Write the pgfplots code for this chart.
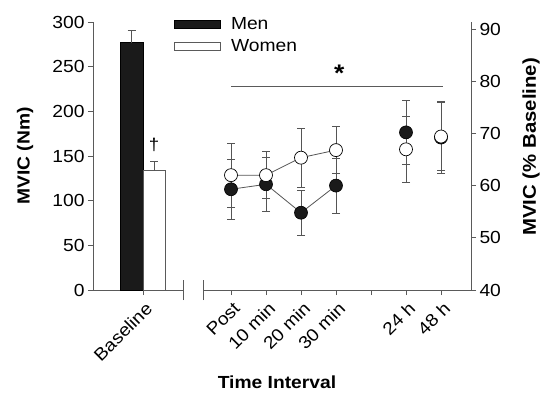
\documentclass[border=0pt]{standalone}
\usepackage{fontspec}
\setmainfont[FakeStretch=1.1]{Liberation Sans}
\usepackage{pgfplots}
\pgfplotsset{compat=1.18}
\definecolor{axc}{RGB}{90,90,90}
\definecolor{barblack}{RGB}{26,26,26}
\definecolor{errc}{RGB}{85,85,85}
\begin{document}
\begin{tikzpicture}[x=1pt,y=1pt]
\useasboundingbox (0,0) rectangle (541,392);
\pgfplotsset{
  common/.style={
    scale only axis, height=268pt, clip=false,
    axis line style={draw=axc, line width=0.8pt, -},
    tick style={draw=axc, line width=0.8pt},
    major tick length=5pt, tick align=outside,
    /pgf/number format/assume math mode=true,
    tick label style={font=\fontsize{17.5}{20}\selectfont},
    label style={font=\bfseries\fontsize{17.5}{21}\selectfont},
    x tick label style={rotate=45, anchor=north east, inner sep=2pt, yshift=-3pt, xshift=-1pt},
  }
}
\begin{axis}[common,
  at={(93pt,102pt)}, width=90pt,
  xmin=-50, xmax=40, ymin=0, ymax=300,
  axis x line*=bottom, axis y line*=left,
  ytick={0,50,...,300},
  xtick={0}, xticklabels={Baseline},
  extra x ticks={40}, extra x tick labels={},
  extra x tick style={major tick length=20pt, tick align=center},
  ylabel={MVIC (Nm)},
  ylabel style={at={(axis description cs:-0.755,0.5)}, anchor=center, rotate=0},
  legend style={draw=none, fill=none, at={(axis description cs:0.9,1.022)}, anchor=north west,
    inner sep=0pt, row sep=6.5pt, column sep=9pt, font=\fontsize{17.5}{20}\selectfont,
    nodes={inner sep=1pt}},
  legend cell align=left,
]
\addplot[ybar, bar width=23, bar shift=0pt, fill=barblack, draw=black, line width=0.6pt,
  legend image code/.code={\draw[fill=barblack, draw=black, line width=0.6pt] (0pt,-4pt) rectangle (46pt,4pt);},
  error bars/.cd, y dir=plus, y explicit,
  error bar style={draw=errc, line width=0.7pt},
  error mark options={draw=errc, rotate=90, mark size=4pt, line width=0.7pt}]
  coordinates {(-11.5,277) +- (0,13.3)};
\addlegendentry{Men}
\addplot[ybar, bar width=22, bar shift=0pt, fill=white, draw=axc, line width=0.8pt,
  legend image code/.code={\draw[fill=white, draw=axc, line width=0.8pt] (0pt,-4pt) rectangle (46pt,4pt);},
  error bars/.cd, y dir=plus, y explicit,
  error bar style={draw=errc, line width=0.7pt},
  error mark options={draw=errc, rotate=90, mark size=4pt, line width=0.7pt}]
  coordinates {(11,133.5) +- (0,10.1)};
\addlegendentry{Women}
\node[font=\fontsize{17}{18}\selectfont] at (axis cs:11,162) {†};
\end{axis}

\begin{axis}[common,
  at={(203pt,102pt)}, width=268pt,
  xmin=-0.8, xmax=6.857, ymin=40, ymax=91.34,
  axis x line*=bottom, axis y line*=right,
  ytick={40,50,...,90},
  xtick={0,...,6}, xticklabels={Post,10 min,20 min,30 min,,24 h,48 h},
  extra x ticks={-0.8}, extra x tick labels={},
  extra x tick style={major tick length=20pt, tick align=center},
  ylabel={MVIC (\% Baseline)},
  ylabel style={at={(axis description cs:1.224,0.534)}, anchor=center, rotate=0,
    font=\bfseries\fontsize{18.5}{21}\selectfont},
  xlabel={Time Interval},
  xlabel style={at={(axis description cs:0.276,-0.343)}, anchor=center},
]
\pgfplotsset{
  eb/.style={error bars/.cd, y dir=both, y explicit,
    error bar style={draw=errc, line width=0.7pt},
    error mark options={draw=errc, rotate=90, mark size=4pt, line width=0.7pt}}
}
% annotation line
\addplot[axc, line width=0.8pt, no marks] coordinates {(0,79) (6.06,79)};
\node[font=\bfseries\fontsize{24}{24}\selectfont] at (axis cs:3.09,81.6) {*};
% Men
\addplot[errc, line width=0.8pt, mark=*, mark size=6.5pt, mark options={fill=barblack, draw=black, line width=0.6pt}, eb]
  coordinates {(0,59.3) +- (0,5.75) (1,60.25) +- (0,5.2) (2,54.8) +- (0,4.3) (3,60.0) +- (0,5.3)};
\addplot[only marks, mark=*, mark size=6.5pt, mark options={fill=barblack, draw=black, line width=0.6pt}, eb]
  coordinates {(5,70.2) +- (0,6.1) (6,69.2) +- (0,6.9)};
% Women
\addplot[errc, line width=0.8pt, mark=*, mark size=6.5pt, mark options={fill=white, draw=black, line width=0.7pt}, eb]
  coordinates {(0,62.0) +- (0,6.1) (1,62.0) +- (0,4.5) (2,65.35) +- (0,5.6) (3,66.8) +- (0,4.5)};
\addplot[only marks, mark=*, mark size=6.5pt, mark options={fill=white, draw=black, line width=0.7pt}, eb]
  coordinates {(5,66.95) +- (0,6.4) (6,69.4) +- (0,6.5)};
\end{axis}
\end{tikzpicture}
\end{document}
